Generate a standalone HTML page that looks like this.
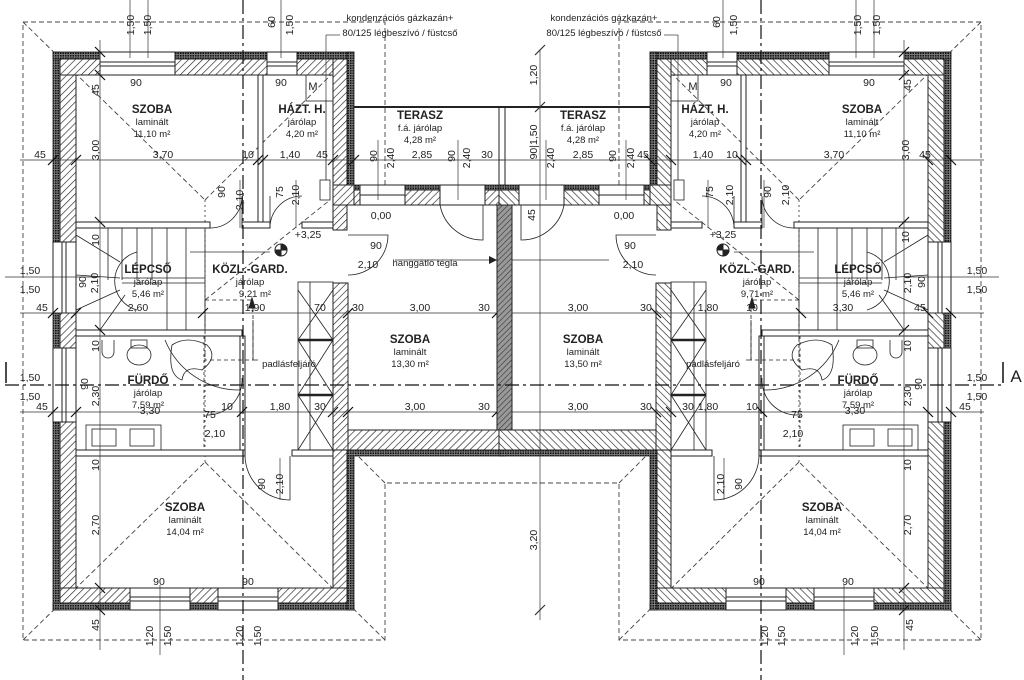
<!DOCTYPE html>
<html><head><meta charset="utf-8"><style>
html,body{margin:0;padding:0;background:#fff}
svg{display:block}
text{font-family:"Liberation Sans",sans-serif;fill:#222;font-size:10.5px;text-anchor:middle}
.b{font-weight:bold;font-size:11.5px}
.s{font-size:9.5px}
</style></head><body>
<svg width="1024" height="680" viewBox="0 0 1024 680" xmlns="http://www.w3.org/2000/svg">
<defs>
<pattern id="h" width="5" height="5" patternUnits="userSpaceOnUse" patternTransform="rotate(45)">
<rect width="5" height="5" fill="#fff"/><line x1="0" y1="0" x2="0" y2="5" stroke="#222" stroke-width="1.3"/></pattern>
<pattern id="d" width="2.5" height="2.5" patternUnits="userSpaceOnUse"><rect width="2.5" height="2.5" fill="#777"/><rect width="1.5" height="1.5" fill="#111"/></pattern>
<pattern id="hd" width="4" height="4" patternUnits="userSpaceOnUse" patternTransform="rotate(45)">
<rect width="4" height="4" fill="#999"/><line x1="0" y1="0" x2="0" y2="4" stroke="#333" stroke-width="1.2"/></pattern>
<g id="L" stroke="#222" fill="none">
<g stroke-dasharray="5,3" stroke-width="0.9" stroke="#444">
<polyline points="385,185 385,22 23,22 23,640 385,640 385,483 505,483"/>
<line x1="23" y1="22" x2="205" y2="200"/><line x1="205" y1="200" x2="354" y2="52"/>
<line x1="23" y1="640" x2="205" y2="462"/><line x1="205" y1="462" x2="385" y2="640"/>
<line x1="385" y1="483" x2="354" y2="452"/>
<line x1="205" y1="200" x2="205" y2="462" stroke-dasharray="2,3"/>
<line x1="205" y1="300" x2="330" y2="200"/>
</g>
<g fill="url(#d)" stroke="#222" stroke-width="0.8">
<rect x="53" y="52" width="7" height="558"/>
<rect x="53" y="52" width="301" height="7"/>
<rect x="347" y="52" width="7" height="138"/>
<rect x="53" y="603" width="301" height="7"/>
<rect x="347" y="450" width="7" height="160"/>
<rect x="347" y="450" width="158" height="6"/>
<rect x="354" y="185" width="151" height="5"/>
</g>
<g fill="url(#h)" stroke="#222" stroke-width="1">
<rect x="60" y="59" width="16" height="544"/>
<rect x="60" y="59" width="287" height="16"/>
<rect x="333" y="59" width="14" height="171"/>
<rect x="333" y="283" width="15" height="167"/>
<rect x="60" y="588" width="287" height="15"/>
<rect x="333" y="450" width="14" height="138"/>
<rect x="348" y="430" width="157" height="20"/>
<rect x="354" y="190" width="151" height="15"/>
<rect x="333" y="185" width="21" height="20"/>
</g>
<g fill="#fff" stroke="#222" stroke-width="1">
<rect x="258" y="75" width="5" height="147"/>
<rect x="76" y="222" width="134" height="6"/>
<rect x="242" y="222" width="28" height="6"/>
<rect x="302" y="222" width="31" height="6"/>
<rect x="76" y="330" width="166" height="6"/>
<rect x="240" y="336" width="5" height="114"/>
<rect x="76" y="450" width="169" height="6"/>
<rect x="292" y="450" width="41" height="6"/>
</g>
<g fill="#fff" stroke="#222" stroke-width="1">
<rect x="100" y="52" width="75" height="23"/><line x1="100" y1="62" x2="175" y2="62"/><line x1="100" y1="66" x2="175" y2="66"/>
<rect x="267" y="52" width="30" height="23"/><line x1="267" y1="62" x2="297" y2="62"/><line x1="267" y1="66" x2="297" y2="66"/>
<rect x="130" y="588" width="60" height="22"/><line x1="130" y1="597" x2="190" y2="597"/><line x1="130" y1="601" x2="190" y2="601"/>
<rect x="218" y="588" width="60" height="22"/><line x1="218" y1="597" x2="278" y2="597"/><line x1="218" y1="601" x2="278" y2="601"/>
<rect x="53" y="242" width="23" height="71"/><line x1="62" y1="242" x2="62" y2="313"/><line x1="66" y1="242" x2="66" y2="313"/>
<rect x="53" y="348" width="23" height="74"/><line x1="62" y1="348" x2="62" y2="422"/><line x1="66" y1="348" x2="66" y2="422"/>
<rect x="360" y="185" width="45" height="20"/><line x1="360" y1="195" x2="405" y2="195"/>
<rect x="440" y="185" width="45" height="20"/>
</g>
<line x1="354" y1="107" x2="505" y2="107" stroke-width="2"/>
<line x1="505" y1="107" x2="505" y2="185"/>
<rect x="306" y="75" width="27" height="26" stroke-width="0.8"/>
<rect x="320" y="180" width="10" height="20" stroke-width="0.8"/>
<line x1="326" y1="100" x2="326" y2="180" stroke-width="0.8"/>
<g stroke-width="0.8">
<path d="M210,228 A32,32 0 0 0 242,196 L242,228"/>
<path d="M270,228 A32,32 0 0 1 302,196"/><line x1="270" y1="196" x2="270" y2="228"/>
<path d="M348,235 L388,235 A40,40 0 0 1 348,275"/>
<path d="M440,205 A43,43 0 0 0 483,240 L483,205"/>
<path d="M245,456 A45,45 0 0 0 290,500 L290,456"/>
<path d="M242,378 A35,35 0 0 1 206,415"/>
</g>
<g stroke-width="0.8">
<line x1="205" y1="228" x2="205" y2="330"/>
<line x1="108" y1="228" x2="108" y2="280"/><line x1="122" y1="228" x2="122" y2="280"/>
<line x1="137" y1="228" x2="137" y2="280"/><line x1="152" y1="228" x2="152" y2="280"/>
<line x1="167" y1="228" x2="167" y2="330"/><line x1="186" y1="228" x2="186" y2="330"/>
<line x1="122" y1="278" x2="205" y2="278"/><line x1="122" y1="283" x2="205" y2="283"/>
<path d="M137,252 A30,30 0 0 0 137,310"/>
<line x1="76" y1="235" x2="120" y2="262"/><line x1="76" y1="275" x2="120" y2="278"/>
<line x1="76" y1="310" x2="120" y2="290"/><line x1="100" y1="330" x2="125" y2="295"/>
</g>
<g stroke-width="0.8">
<rect x="298" y="282" width="35" height="168"/>
<line x1="298" y1="340" x2="333" y2="340" stroke-width="2.5"/><line x1="298" y1="395" x2="333" y2="395" stroke-width="2.5"/>
<line x1="298" y1="290" x2="333" y2="340"/><line x1="333" y1="290" x2="298" y2="340"/>
<line x1="298" y1="340" x2="333" y2="395"/><line x1="333" y1="340" x2="298" y2="395"/>
<line x1="298" y1="395" x2="333" y2="450"/><line x1="333" y1="395" x2="298" y2="450"/>
<line x1="310" y1="282" x2="310" y2="450"/>
</g>
<rect x="205" y="300" width="48" height="60" stroke-width="0.8" stroke-dasharray="4,3"/>
<path d="M253,320 L253,360 L258,360" stroke-width="0.8"/>
<path d="M252,298 l-3,10 h6 z" fill="#222"/>
<g stroke-width="0.8">
<path d="M172,345 q15,-10 35,0 q12,12 -5,25 q-18,-5 -20,10 q-15,-5 -10,-35 z"/>
<path d="M165,340 A80,80 0 0 0 240,390"/>
<ellipse cx="139" cy="355" rx="12" ry="10"/><rect x="131" y="340" width="16" height="8"/>
<path d="M102,340 v12 a6,6 0 0 0 12,0 v-12"/>
<rect x="86" y="425" width="75" height="25"/><rect x="92" y="429" width="24" height="17"/><rect x="130" y="429" width="24" height="17"/>
<line x1="204" y1="336" x2="204" y2="450" stroke-dasharray="3,3"/>
</g>
<circle cx="281" cy="250" r="6" stroke-width="1"/><path d="M281,244 A6,6 0 0 1 287,250 L281,250 Z M281,256 A6,6 0 0 1 275,250 L281,250 Z" fill="#222"/>
<g stroke-width="0.7" stroke="#333">
<line x1="20" y1="160" x2="505" y2="160"/>
<line x1="20" y1="313" x2="505" y2="313"/>
<line x1="20" y1="412" x2="505" y2="412"/>
<line x1="5" y1="277" x2="100" y2="277"/>
<line x1="100" y1="40" x2="100" y2="650"/>
<line x1="130" y1="0" x2="130" y2="58"/><line x1="148" y1="0" x2="148" y2="58"/>
<line x1="281" y1="0" x2="281" y2="58"/>
<line x1="160" y1="585" x2="160" y2="655"/>
<line x1="326" y1="35" x2="326" y2="100"/><line x1="326" y1="35" x2="340" y2="35"/>
<line x1="240" y1="180" x2="240" y2="228"/><line x1="296" y1="180" x2="296" y2="228"/>
<line x1="378" y1="140" x2="378" y2="200"/><line x1="458" y1="140" x2="458" y2="200"/>
<line x1="280" y1="500" x2="280" y2="458"/>
<line x1="190" y1="252" x2="270" y2="252"/><line x1="395" y1="260" x2="500" y2="260"/>
</g>
<g stroke-width="1.2" stroke="#111">
<line x1="48" y1="165" x2="58" y2="155"/><line x1="71" y1="165" x2="81" y2="155"/>
<line x1="253" y1="165" x2="263" y2="155"/><line x1="258" y1="165" x2="268" y2="155"/>
<line x1="328" y1="165" x2="338" y2="155"/><line x1="349" y1="165" x2="359" y2="155"/>
<line x1="48" y1="318" x2="58" y2="308"/><line x1="71" y1="318" x2="81" y2="308"/>
<line x1="198" y1="318" x2="208" y2="308"/><line x1="343" y1="318" x2="353" y2="308"/><line x1="492" y1="318" x2="502" y2="308"/>
<line x1="48" y1="417" x2="58" y2="407"/><line x1="71" y1="417" x2="81" y2="407"/>
<line x1="237" y1="417" x2="247" y2="407"/><line x1="328" y1="417" x2="338" y2="407"/><line x1="343" y1="417" x2="353" y2="407"/><line x1="492" y1="417" x2="502" y2="407"/>
<line x1="95" y1="47" x2="105" y2="57"/><line x1="95" y1="70" x2="105" y2="80"/>
<line x1="95" y1="217" x2="105" y2="227"/><line x1="95" y1="325" x2="105" y2="335"/>
<line x1="95" y1="583" x2="105" y2="593"/><line x1="95" y1="605" x2="105" y2="615"/>
</g>
</g>
</defs>
<use href="#L"/>
<g transform="translate(1004,0) scale(-1,1)"><use href="#L"/></g>
<rect x="497" y="205" width="15" height="225" fill="url(#hd)" stroke="#222"/>
<path d="M497,260 l-8,-4 v8 z" fill="#222"/>
<g stroke="#333" stroke-width="0.7">
<line x1="540" y1="50" x2="540" y2="620"/>
<line x1="535" y1="55" x2="545" y2="45" stroke-width="1.2"/><line x1="535" y1="112" x2="545" y2="102" stroke-width="1.2"/>
<line x1="535" y1="615" x2="545" y2="605" stroke-width="1.2"/>
<line x1="5" y1="385" x2="1003" y2="385" stroke="#111" stroke-width="1.3" stroke-dasharray="14,4,3,4"/>
<line x1="243" y1="0" x2="243" y2="680" stroke="#111" stroke-width="1.2" stroke-dasharray="14,4,3,4"/>
<line x1="761" y1="0" x2="761" y2="680" stroke="#111" stroke-width="1.2" stroke-dasharray="14,4,3,4"/>
<line x1="6" y1="362" x2="6" y2="383" stroke="#111" stroke-width="1.5"/>
<line x1="1003" y1="362" x2="1003" y2="383" stroke="#111" stroke-width="1.5"/>
</g>
<text x="1016" y="382" style="font-size:17px">A</text>
<text x="400" y="21" class="s">kondenzációs gázkazán+</text>
<text x="400" y="36" class="s">80/125 légbeszívó / füstcső</text>
<text x="604" y="21" class="s">kondenzációs gázkazán+</text>
<text x="604" y="36" class="s">80/125 légbeszívó / füstcső</text>
<g class="s">
<text transform="translate(134,25) rotate(-90)">1,50</text><text transform="translate(151,25) rotate(-90)">1,50</text>
<text transform="translate(275,22) rotate(-90)">60</text><text transform="translate(293,25) rotate(-90)">1,50</text>
<text transform="translate(720,22) rotate(-90)">60</text><text transform="translate(737,25) rotate(-90)">1,50</text>
<text transform="translate(861,25) rotate(-90)">1,50</text><text transform="translate(880,25) rotate(-90)">1,50</text>
</g>
<text x="136" y="86">90</text><text x="281" y="86">90</text><text x="726" y="86">90</text><text x="869" y="86">90</text>
<text x="313" y="90" style="font-size:11px">M</text><text x="693" y="90" style="font-size:11px">M</text>
<text transform="translate(99,90) rotate(-90)">45</text><text transform="translate(911,85) rotate(-90)">45</text>
<text x="152" y="113" class="b">SZOBA</text><text x="152" y="125" class="s">laminált</text><text x="152" y="137" class="s">11,10 m²</text>
<text x="302" y="113" class="b">HÁZT. H.</text><text x="302" y="125" class="s">járólap</text><text x="302" y="137" class="s">4,20 m²</text>
<text x="420" y="119" class="b">TERASZ</text><text x="420" y="131" class="s">f.á. járólap</text><text x="420" y="143" class="s">4,28 m²</text>
<text x="583" y="119" class="b">TERASZ</text><text x="583" y="131" class="s">f.á. járólap</text><text x="583" y="143" class="s">4,28 m²</text>
<text x="705" y="113" class="b">HÁZT. H.</text><text x="705" y="125" class="s">járólap</text><text x="705" y="137" class="s">4,20 m²</text>
<text x="862" y="113" class="b">SZOBA</text><text x="862" y="125" class="s">laminált</text><text x="862" y="137" class="s">11,10 m²</text>
<text x="40" y="158">45</text><text x="163" y="158">3,70</text><text x="248" y="158">10</text><text x="290" y="158">1,40</text><text x="322" y="158">45</text>
<text x="422" y="158">2,85</text><text x="487" y="158">30</text>
<text transform="translate(377,156) rotate(-90)">90</text><text transform="translate(394,158) rotate(-90)">2,40</text>
<text transform="translate(455,156) rotate(-90)">90</text><text transform="translate(470,158) rotate(-90)">2,40</text>
<text transform="translate(99,150) rotate(-90)">3,00</text>
<text transform="translate(537,75) rotate(-90)">1,20</text><text transform="translate(537,142) rotate(-90)">90|1,50</text>
<text transform="translate(554,158) rotate(-90)">2,40</text><text x="583" y="158">2,85</text>
<text transform="translate(616,156) rotate(-90)">90</text><text transform="translate(634,158) rotate(-90)">2,40</text>
<text x="643" y="158">45</text><text x="703" y="158">1,40</text><text x="732" y="158">10</text><text x="834" y="158">3,70</text>
<text transform="translate(909,150) rotate(-90)">3,00</text><text x="925" y="158">45</text>
<text transform="translate(225,192) rotate(-90)">90</text><text transform="translate(243,200) rotate(-90)">2,10</text>
<text transform="translate(283,192) rotate(-90)">75</text><text transform="translate(299,195) rotate(-90)">2,10</text>
<text transform="translate(713,192) rotate(-90)">75</text><text transform="translate(733,195) rotate(-90)">2,10</text>
<text transform="translate(771,192) rotate(-90)">90</text><text transform="translate(789,195) rotate(-90)">2,10</text>
<text transform="translate(535,215) rotate(-90)">45</text>
<text x="381" y="219">0,00</text><text x="624" y="219">0,00</text>
<text x="308" y="238">+3,25</text><text x="723" y="238">+3,25</text>
<text x="376" y="249">90</text><text x="368" y="268">2,10</text><text x="630" y="249">90</text><text x="633" y="268">2,10</text>
<text x="425" y="266" class="s">hanggátló tégla</text>
<text transform="translate(99,240) rotate(-90)">10</text><text transform="translate(909,237) rotate(-90)">10</text>
<text x="148" y="273" class="b">LÉPCSŐ</text><text x="148" y="285" class="s">járólap</text><text x="148" y="297" class="s">5,46 m²</text>
<text x="250" y="273" class="b">KÖZL.-GARD.</text><text x="250" y="285" class="s">járólap</text><text x="255" y="297" class="s">9,21 m²</text>
<text x="757" y="273" class="b">KÖZL.-GARD.</text><text x="757" y="285" class="s">járólap</text><text x="757" y="297" class="s">9,71 m²</text>
<text x="858" y="273" class="b">LÉPCSŐ</text><text x="858" y="285" class="s">járólap</text><text x="858" y="297" class="s">5,46 m²</text>
<text x="30" y="274">1,50</text><text x="30" y="293">1,50</text><text x="977" y="274">1,50</text><text x="977" y="293">1,50</text>
<text transform="translate(86,282) rotate(-90)">90</text><text transform="translate(98,283) rotate(-90)">2,10</text>
<text transform="translate(925,282) rotate(-90)">90</text><text transform="translate(911,283) rotate(-90)">2,10</text>
<text x="42" y="311">45</text><text x="138" y="311">2,60</text><text x="255" y="311">1,90</text><text x="320" y="311">70</text><text x="358" y="311">30</text><text x="420" y="311">3,00</text><text x="484" y="311">30</text>
<text x="578" y="311">3,00</text><text x="646" y="311">30</text><text x="708" y="311">1,80</text><text x="752" y="311">10</text><text x="843" y="311">3,30</text><text x="920" y="311">45</text>
<text x="410" y="343" class="b">SZOBA</text><text x="410" y="355" class="s">laminált</text><text x="410" y="367" class="s">13,30 m²</text>
<text x="583" y="343" class="b">SZOBA</text><text x="583" y="355" class="s">laminált</text><text x="583" y="367" class="s">13,50 m²</text>
<text x="289" y="367" class="s">padlásfeljáró</text><text x="713" y="367" class="s">padlásfeljáró</text>
<text transform="translate(99,346) rotate(-90)">10</text><text transform="translate(911,346) rotate(-90)">10</text>
<text x="148" y="384" class="b">FÜRDŐ</text><text x="148" y="396" class="s">járólap</text><text x="148" y="408" class="s">7,59 m²</text>
<text x="858" y="384" class="b">FÜRDŐ</text><text x="858" y="396" class="s">járólap</text><text x="858" y="408" class="s">7,59 m²</text>
<text transform="translate(88,384) rotate(-90)">90</text><text transform="translate(99,396) rotate(-90)">2,30</text>
<text transform="translate(922,384) rotate(-90)">90</text><text transform="translate(911,396) rotate(-90)">2,30</text>
<text x="30" y="381">1,50</text><text x="30" y="400">1,50</text><text x="977" y="381">1,50</text><text x="977" y="400">1,50</text>
<text x="42" y="410">45</text><text x="150" y="414">3,30</text><text x="210" y="418">75</text><text x="227" y="410">10</text><text x="280" y="410">1,80</text><text x="320" y="410">30</text><text x="415" y="410">3,00</text><text x="484" y="410">30</text>
<text x="578" y="410">3,00</text><text x="646" y="410">30</text><text x="688" y="410">30</text><text x="708" y="410">1,80</text><text x="752" y="410">10</text><text x="797" y="418">75</text><text x="855" y="414">3,30</text><text x="965" y="410">45</text>
<text x="215" y="437">2,10</text><text x="793" y="437">2,10</text>
<text transform="translate(99,465) rotate(-90)">10</text><text transform="translate(911,465) rotate(-90)">10</text>
<text transform="translate(265,484) rotate(-90)">90</text><text transform="translate(283,484) rotate(-90)">2,10</text>
<text transform="translate(742,484) rotate(-90)">90</text><text transform="translate(724,484) rotate(-90)">2,10</text>
<text transform="translate(537,540) rotate(-90)">3,20</text>
<text x="185" y="511" class="b">SZOBA</text><text x="185" y="523" class="s">laminált</text><text x="185" y="535" class="s">14,04 m²</text>
<text x="822" y="511" class="b">SZOBA</text><text x="822" y="523" class="s">laminált</text><text x="822" y="535" class="s">14,04 m²</text>
<text transform="translate(99,525) rotate(-90)">2,70</text><text transform="translate(911,525) rotate(-90)">2,70</text>
<text x="159" y="585">90</text><text x="248" y="585">90</text><text x="759" y="585">90</text><text x="848" y="585">90</text>
<text transform="translate(99,625) rotate(-90)">45</text><text transform="translate(913,625) rotate(-90)">45</text>
<g class="s">
<text transform="translate(153,636) rotate(-90)">1,20</text><text transform="translate(171,636) rotate(-90)">1,50</text>
<text transform="translate(243,636) rotate(-90)">1,20</text><text transform="translate(261,636) rotate(-90)">1,50</text>
<text transform="translate(768,636) rotate(-90)">1,20</text><text transform="translate(785,636) rotate(-90)">1,50</text>
<text transform="translate(858,636) rotate(-90)">1,20</text><text transform="translate(878,636) rotate(-90)">1,50</text>
</g>
</svg>
</body></html>
